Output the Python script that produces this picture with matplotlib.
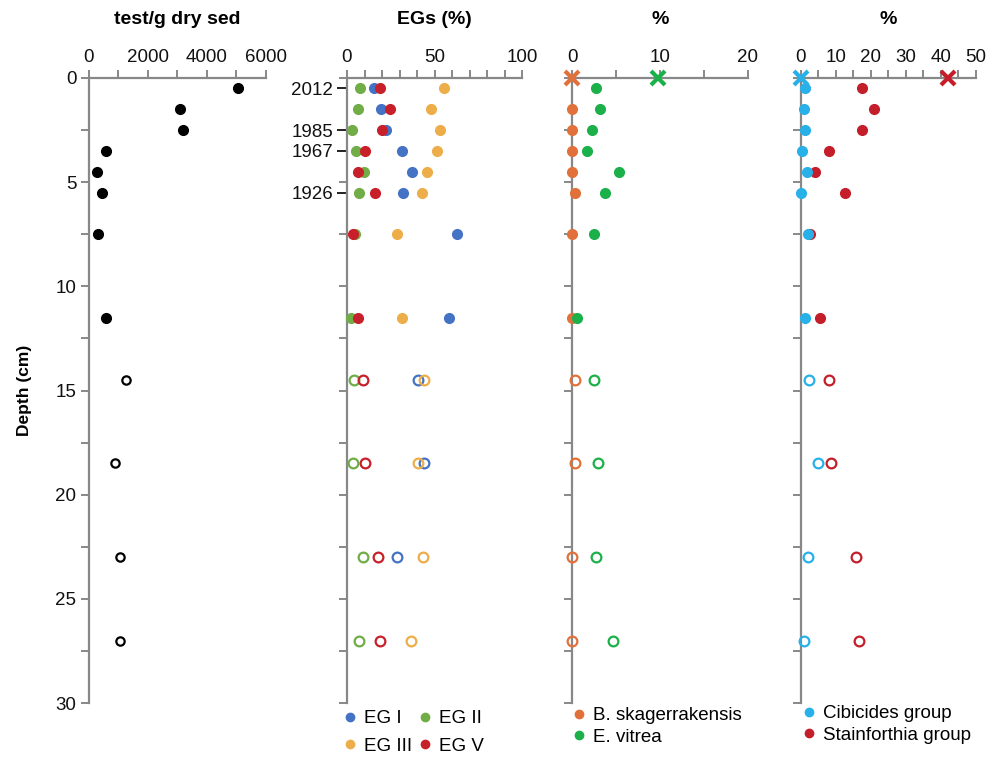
import numpy as np
import matplotlib.pyplot as plt
from matplotlib.lines import Line2D
from matplotlib.ticker import MultipleLocator

plt.rcParams['font.family'] = ['Liberation Sans', 'DejaVu Sans']

nan = np.nan
depth = [0.5, 1.5, 2.5, 3.5, 4.5, 5.5, 7.5, 11.5, 14.5, 18.5, 23, 27]
n_filled = 8  # first 8 samples filled, rest open

test_per_g = [5050, 3090, 3170, 580, 260, 430, 320, 580, 1250, 890, 1050, 1050]

eg1 = [15.2, 19.4, 22.1, 31.4, 37.3, 32.2, 62.7, 58.3, 40.4, 44.2, 28.8, nan]
eg2 = [7.6, 6.1, 2.7, 5.1, 9.9, 7.0, 4.8, 2.3, 4.2, 3.4, 9.3, 6.9]
eg3 = [55.6, 48.2, 53.3, 51.4, 45.7, 43.0, 28.8, 31.2, 44.2, 40.4, 43.2, 36.4]
eg5 = [18.7, 24.8, 20.2, 10.5, 6.1, 16.2, 3.6, 6.1, 9.3, 10.3, 17.9, 18.7]

b_skag = [nan, 0, 0, 0, 0, 0.3, 0, 0, 0.3, 0.3, 0, 0]
e_vitrea = [2.7, 3.2, 2.2, 1.7, 5.3, 3.7, 2.5, 0.5, 2.5, 2.9, 2.7, 4.6]
cibicides = [1.2, 0.9, 1.3, 0.4, 1.7, 0.0, 2.1, 1.2, 2.5, 4.8, 2.2, 0.8]
stainforthia = [17.5, 21.0, 17.5, 8.2, 4.0, 12.7, 2.7, 5.5, 8.2, 8.7, 15.7, 16.6]

# surface (0 cm) values shown as crosses
surf_depth = 0
b_skag_surf = 0
e_vitrea_surf = 9.8
cibicides_surf = 0
stainforthia_surf = 42

years = ['2012', '1985', '1967', '1926']
year_depth = [0.5, 2.5, 3.5, 5.5]

c_eg1 = '#4472C4'
c_eg2 = '#70AD47'
c_eg3 = '#EDAE49'
c_eg5 = '#C8202B'
c_bsk = '#E2703A'
c_evi = '#1CB04A'
c_cib = '#28B0E8'
c_sta = '#C41E2A'
axcol = '#888888'

W, H = 993, 759
fig = plt.figure(figsize=(W / 100, H / 100), dpi=100)

top, bot = 78, 703
lefts = [89, 347, 572.3, 800.7]
widths = [177, 175, 175.4, 175]
axes = []
for l, w in zip(lefts, widths):
    ax = fig.add_axes([l / W, 1 - bot / H, w / W, (bot - top) / H])
    ax.set_ylim(30, 0)
    for s in ['right', 'bottom']:
        ax.spines[s].set_visible(False)
    for s in ['top', 'left']:
        ax.spines[s].set_color(axcol)
        ax.spines[s].set_linewidth(1.6)
    ax.xaxis.tick_top()
    ax.tick_params(which='both', color=axcol, width=1.4, length=6,
                   labelsize=13.5, pad=3, labelcolor='#111111')
    ax.yaxis.set_minor_locator(MultipleLocator(2.5))
    axes.append(ax)

ax1, ax2, ax3, ax4 = axes

def draw(ax, vals, color, ms=7, open_ms=7):
    ax.plot(vals[:n_filled], depth[:n_filled], 'o', color=color,
            ms=ms, mec=color, clip_on=False, zorder=5)
    ax.plot(vals[n_filled:], depth[n_filled:], 'o', mfc='none', mec=color,
            ms=open_ms, mew=1.6, clip_on=False, zorder=5)

# panel 1
draw(ax1, test_per_g, 'black', ms=7, open_ms=6)
ax1.set_xlim(0, 6000)
ax1.xaxis.set_major_locator(MultipleLocator(2000))
ax1.xaxis.set_minor_locator(MultipleLocator(1000))
ax1.yaxis.set_major_locator(MultipleLocator(5))

# panel 2
for vals, c in [(eg1, c_eg1), (eg2, c_eg2), (eg3, c_eg3), (eg5, c_eg5)]:
    draw(ax2, vals, c)
ax2.set_xlim(0, 100)
ax2.xaxis.set_major_locator(MultipleLocator(50))
ax2.xaxis.set_minor_locator(MultipleLocator(10))
ax2.set_yticks(year_depth)
ax2.set_yticklabels(years)
ax2.tick_params(axis='y', which='major', color='#222222', length=7)

# panel 3
draw(ax3, b_skag, c_bsk)
draw(ax3, e_vitrea, c_evi)
ax3.plot([b_skag_surf], [surf_depth], 'x', color=c_bsk, ms=10, mew=3, clip_on=False, zorder=6)
ax3.plot([e_vitrea_surf], [surf_depth], 'x', color=c_evi, ms=10, mew=3, clip_on=False, zorder=6)
ax3.set_xlim(0, 20)
ax3.xaxis.set_major_locator(MultipleLocator(10))
ax3.xaxis.set_minor_locator(MultipleLocator(5))
ax3.set_yticks([])
ax3.yaxis.set_minor_locator(MultipleLocator(2.5))

# panel 4
draw(ax4, stainforthia, c_sta)
draw(ax4, cibicides, c_cib)
ax4.plot([cibicides_surf], [surf_depth], 'x', color=c_cib, ms=10, mew=3, clip_on=False, zorder=6)
ax4.plot([stainforthia_surf], [surf_depth], 'x', color=c_sta, ms=10, mew=3, clip_on=False, zorder=6)
ax4.set_xlim(0, 50)
ax4.xaxis.set_major_locator(MultipleLocator(10))
ax4.xaxis.set_minor_locator(MultipleLocator(5))
ax4.set_yticks([])
ax4.yaxis.set_minor_locator(MultipleLocator(2.5))

# titles
titles = ['test/g dry sed', 'EGs (%)', '%', '%']
for l, w, t in zip(lefts, widths, titles):
    fig.text((l + w / 2) / W, 1 - 20 / H, t, ha='center', va='center',
             fontsize=14, fontweight='bold')
fig.text(25 / W, 1 - 390 / H, 'Depth (cm)', rotation=90, ha='center',
         va='center', fontsize=12.5, fontweight='bold')

def handle(c):
    return Line2D([], [], marker='o', ls='', color=c, ms=6)

leg_kw = dict(loc='upper left', frameon=False, fontsize=13.5,
              handlelength=0.6, handletextpad=0.45, borderaxespad=0,
              borderpad=0)
fig.legend([handle(c_eg1), handle(c_eg3), handle(c_eg2), handle(c_eg5)],
           ['EG I', 'EG III', 'EG II', 'EG V'], ncol=2, labelspacing=0.55,
           columnspacing=0.4, bbox_to_anchor=(344 / W, 1 - 710 / H), **leg_kw)
fig.legend([handle(c_bsk), handle(c_evi)], ['B. skagerrakensis', 'E. vitrea'],
           labelspacing=0.25, bbox_to_anchor=(573 / W, 1 - 707 / H), **leg_kw)
fig.legend([handle(c_cib), handle(c_sta)], ['Cibicides group', 'Stainforthia group'],
           labelspacing=0.25, bbox_to_anchor=(803 / W, 1 - 705 / H), **leg_kw)

fig.savefig('out.png', dpi=100)
